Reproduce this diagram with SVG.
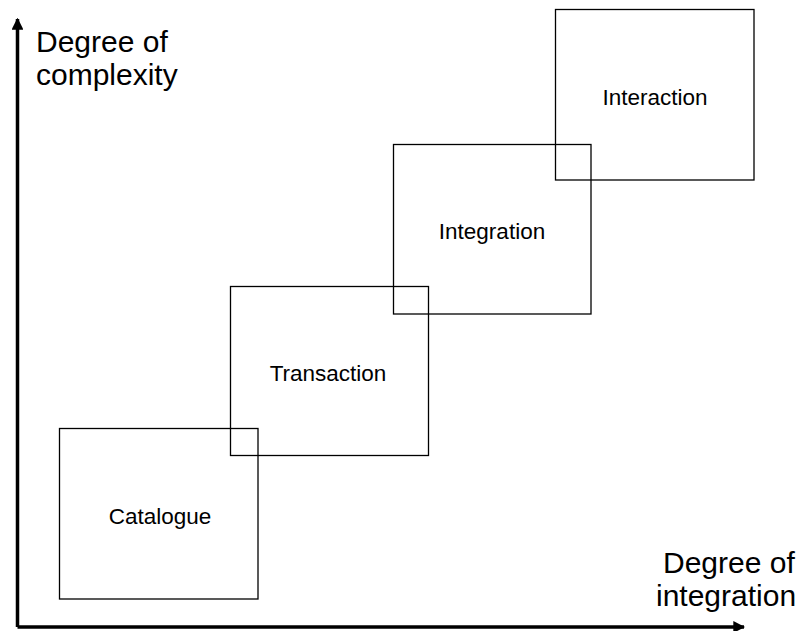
<svg xmlns="http://www.w3.org/2000/svg" width="798" height="631" viewBox="0 0 798 631">
<defs>
<style>
.box{fill:none;stroke:#000;stroke-width:1.3}
.lbl{font-family:"Liberation Sans",Arial,sans-serif;font-size:22.5px;fill:#000;text-anchor:middle}
.ax{font-family:"Liberation Sans",Arial,sans-serif;font-size:30px;fill:#000}
.axis{fill:none;stroke:#000;stroke-width:3.5}
</style>
<marker id="ah" viewBox="0 0 10 10" refX="9" refY="5" markerWidth="3.4" markerHeight="3.4" orient="auto" markerUnits="strokeWidth">
<path d="M0,0 L10,5 L0,10 z" fill="#000"/>
</marker>
</defs>
<rect width="798" height="631" fill="#fff"/>
<g id="connectors">
<path class="axis" d="M17.5,627 L17.5,19" marker-end="url(#ah)"/>
<path class="axis" d="M17.5,627 L744,627" marker-end="url(#ah)"/>
</g>
<g id="catalogue">
<rect class="box" x="59.5" y="428.5" width="198.5" height="170.5"/>
<text class="lbl" x="160" y="524">Catalogue</text>
</g>
<g id="transaction">
<rect class="box" x="230.5" y="286.5" width="198" height="169"/>
<text class="lbl" x="328" y="381">Transaction</text>
</g>
<g id="integration">
<rect class="box" x="393.5" y="144.5" width="197.5" height="169.5"/>
<text class="lbl" x="492" y="239">Integration</text>
</g>
<g id="interaction">
<rect class="box" x="555.5" y="9.5" width="198.5" height="170.5"/>
<text class="lbl" x="655" y="105">Interaction</text>
</g>
<g id="y-label">
<text class="ax" x="36" y="52">Degree of</text>
<text class="ax" x="36" y="85">complexity</text>
</g>
<g id="x-label">
<text class="ax" x="663" y="573">Degree of</text>
<text class="ax" x="656" y="606">integration</text>
</g>
</svg>
